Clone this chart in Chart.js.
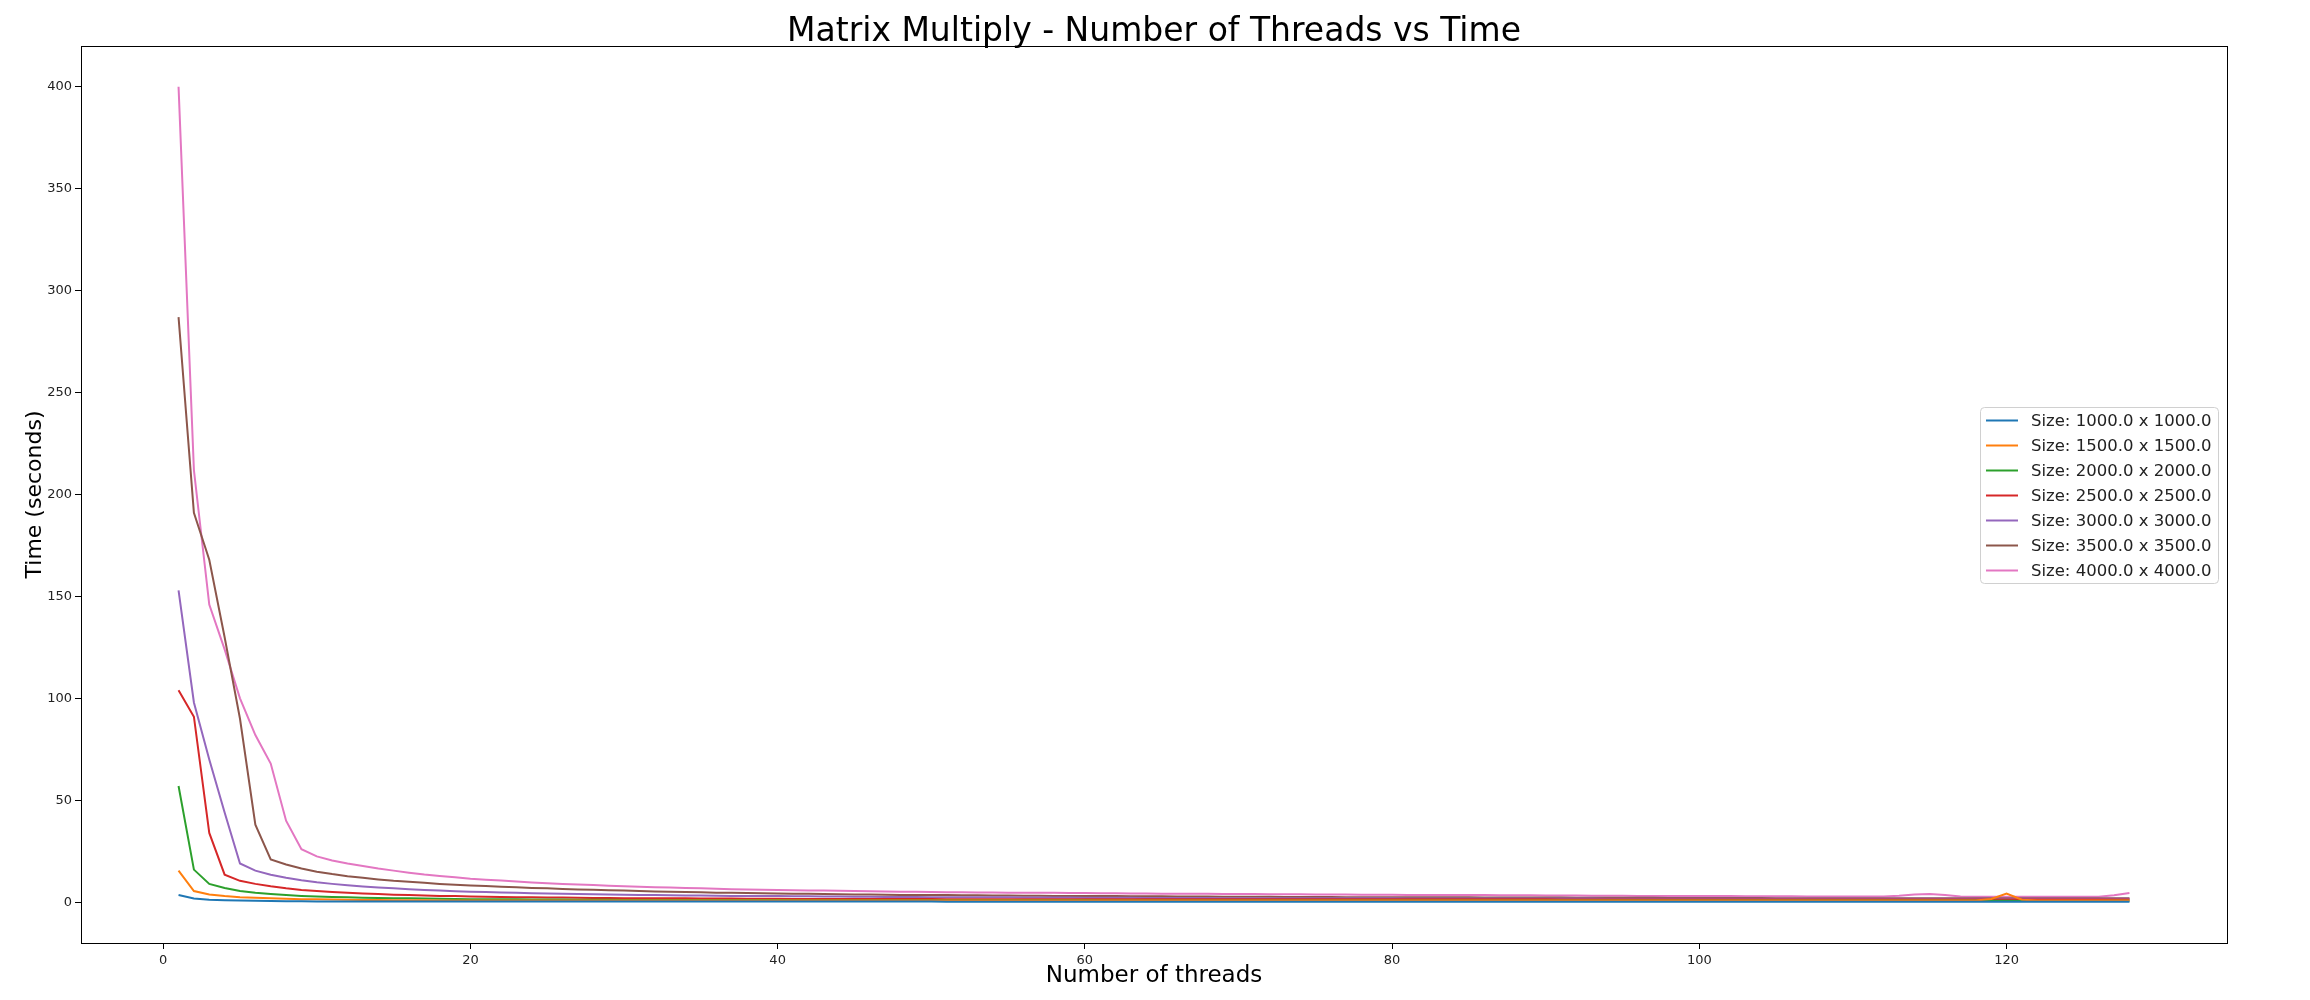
<!DOCTYPE html>
<html>
<head>
<meta charset="utf-8">
<script src="https://cdn.jsdelivr.net/npm/chart.js@4/dist/chart.umd.min.js"></script>
<style>
  html, body { margin: 0; padding: 0; background: #fff; }
  #wrap { width: 2310px; height: 1000px; }
</style>
</head>
<body>
<div id="wrap"><canvas id="canvas"></canvas></div>
<script>
// thread counts 1..128
const threads = [];
for (let t = 1; t <= 128; t++) threads.push(t);

const sizeLabels = ['Size: 1000.0 x 1000.0', 'Size: 1500.0 x 1500.0', 'Size: 2000.0 x 2000.0',
    'Size: 2500.0 x 2500.0', 'Size: 3000.0 x 3000.0', 'Size: 3500.0 x 3500.0', 'Size: 4000.0 x 4000.0'];
const colors = ['#1f77b4', '#ff7f0e', '#2ca02c', '#d62728', '#9467bd', '#8c564b', '#e377c2'];

const xTicks = [0, 20, 40, 60, 80, 100, 120];
const yTicks = [0, 50, 100, 150, 200, 250, 300, 350, 400];

const time1000 = [3.5,1.8,1.2,1,0.8,0.7,0.6,0.5,0.5,0.4,
    0.4,0.4,0.4,0.3,0.3,0.3,0.3,0.3,0.3,0.3, 0.3,0.3,0.3,0.3,0.3,0.3,0.3,0.3,0.3,0.3,
    0.3,0.3,0.3,0.3,0.3,0.3,0.3,0.3,0.3,0.3, 0.3,0.3,0.3,0.3,0.3,0.3,0.3,0.3,0.3,0.3,
    0.2,0.2,0.2,0.2,0.2,0.2,0.2,0.2,0.2,0.2, 0.2,0.2,0.2,0.2,0.2,0.2,0.2,0.2,0.2,0.2,
    0.2,0.2,0.2,0.2,0.2,0.2,0.2,0.2,0.2,0.2, 0.2,0.2,0.2,0.2,0.2,0.2,0.2,0.2,0.2,0.2,
    0.2,0.2,0.2,0.2,0.2,0.2,0.2,0.2,0.2,0.2, 0.2,0.2,0.2,0.2,0.2,0.2,0.2,0.2,0.2,0.2,
    0.2,0.2,0.2,0.2,0.2,0.2,0.2,0.2,0.2,0.2, 0.2,0.2,0.2,0.2,0.2,0.2,0.2,0.2];
const time1500 = [15.5,5.5,3.8,3,2.5,2.2,1.9,1.7,1.5,1.4,
    1.3,1.2,1.1,1.1,1,1,1,0.9,0.9,0.9, 0.9,0.9,0.9,0.9,0.9,0.9,0.9,0.9,0.9,0.9,
    0.8,0.8,0.8,0.8,0.8,0.8,0.8,0.8,0.8,0.8, 0.8,0.8,0.8,0.8,0.8,0.8,0.8,0.8,0.8,0.8,
    0.8,0.8,0.8,0.8,0.8,0.8,0.8,0.8,0.8,0.8, 0.8,0.8,0.8,0.8,0.8,0.8,0.8,0.8,0.8,0.8,
    0.8,0.8,0.8,0.8,0.8,0.8,0.8,0.8,0.8,0.8, 0.8,0.8,0.8,0.8,0.8,0.8,0.8,0.8,0.8,0.8,
    0.8,0.8,0.8,0.8,0.8,0.8,0.8,0.8,0.8,0.8, 0.8,0.8,0.8,0.8,0.8,0.8,0.8,0.8,0.8,0.8,
    0.8,0.8,0.8,0.8,0.8,0.8,0.8,0.8,1.6,4.2, 1.2,0.8,0.8,0.8,0.8,0.8,0.8,0.8];
const time2000 = [57,16,9,7,5.5,4.6,4,3.5,3.1,2.8,
    2.6,2.4,2.2,2.1,2,1.9,1.8,1.7,1.6,1.5, 1.5,1.4,1.4,1.3,1.3,1.3,1.2,1.2,1.2,1.1,
    1.1,1.1,1.1,1.1,1.1,1.1,1.1,1.1,1.1,1.1, 1,1,1,1,1,1,1,1,1,1,
    1,1,1,1,1,1,1,1,1,1, 0.9,0.9,0.9,0.9,0.9,0.9,0.9,0.9,0.9,0.9,
    0.9,0.9,0.9,0.9,0.9,0.9,0.9,0.9,0.9,0.9, 0.9,0.9,0.9,0.9,0.9,0.9,0.9,0.9,0.9,0.9,
    0.9,0.9,0.9,0.9,0.9,0.9,0.9,0.9,0.9,0.9, 0.8,0.8,0.8,0.8,0.8,0.8,0.8,0.8,0.8,0.8,
    0.8,0.8,0.8,0.8,0.8,0.8,0.8,0.8,0.7,0.7, 0.6,0.6,0.6,0.6,0.6,0.6,0.7,0.7];
const time2500 = [104,91,34,13.5,10.5,9,7.8,6.8,6,5.5,
    5,4.6,4.3,4,3.7,3.5,3.3,3.1,3,2.8, 2.7,2.6,2.5,2.4,2.3,2.3,2.2,2.1,2.1,2,
    2,1.9,1.9,1.9,1.8,1.8,1.8,1.7,1.7,1.7, 1.6,1.6,1.6,1.6,1.6,1.6,1.6,1.6,1.6,1.6,
    1.5,1.5,1.5,1.5,1.5,1.5,1.5,1.5,1.5,1.5, 1.5,1.5,1.5,1.5,1.5,1.5,1.5,1.5,1.5,1.5,
    1.4,1.4,1.4,1.4,1.4,1.4,1.4,1.4,1.4,1.4, 1.4,1.4,1.4,1.4,1.4,1.4,1.4,1.4,1.4,1.4,
    1.3,1.3,1.3,1.3,1.3,1.3,1.3,1.3,1.3,1.3, 1.3,1.3,1.3,1.3,1.3,1.3,1.3,1.3,1.3,1.3,
    1.3,1.3,1.3,1.3,1.3,1.3,1.3,1.3,1.3,1.3, 1.3,1.3,1.3,1.3,1.3,1.3,1.3,1.3];
const time3000 = [153,98,70,44,19,15.5,13.5,12,10.8,9.8,
    9,8.3,7.7,7.2,6.8,6.4,6,5.7,5.4,5.2, 5,4.8,4.6,4.4,4.3,4.1,4,3.9,3.8,3.7,
    3.6,3.5,3.4,3.3,3.3,3.2,3.1,3.1,3,3, 2.9,2.9,2.8,2.8,2.7,2.7,2.6,2.6,2.6,2.5,
    2.5,2.5,2.4,2.4,2.4,2.3,2.3,2.3,2.3,2.2, 2.2,2.2,2.2,2.1,2.1,2.1,2.1,2.1,2,2,
    2,2,2,2,1.9,1.9,1.9,1.9,1.9,1.9, 1.8,1.8,1.8,1.8,1.8,1.8,1.8,1.8,1.8,1.8,
    1.8,1.8,1.8,1.7,1.7,1.7,1.7,1.7,1.7,1.7, 1.7,1.7,1.7,1.7,1.7,1.7,1.7,1.7,1.7,1.7,
    1.7,1.7,1.7,1.7,1.7,1.7,1.7,1.7,1.7,1.7, 1.7,1.7,1.7,1.7,1.7,1.7,1.7,1.7];
const time3500 = [287,191,168,130,90,38,21,18.5,16.5,15,
    13.8,12.8,12,11.2,10.5,10,9.5,9,8.6,8.2, 7.9,7.6,7.3,7,6.8,6.5,6.3,6.1,5.9,5.7,
    5.5,5.3,5.2,5,4.9,4.7,4.6,4.5,4.4,4.3, 4.2,4.1,4,3.9,3.8,3.8,3.7,3.6,3.6,3.5,
    3.5,3.4,3.4,3.3,3.3,3.2,3.2,3.1,3.1,3, 3,3,2.9,2.9,2.9,2.8,2.8,2.8,2.7,2.7,
    2.7,2.7,2.6,2.6,2.6,2.6,2.5,2.5,2.5,2.5, 2.4,2.4,2.4,2.4,2.4,2.3,2.3,2.3,2.3,2.3,
    2.3,2.2,2.2,2.2,2.2,2.2,2.2,2.1,2.1,2.1, 2.1,2.1,2.1,2.1,2,2,2,2,2,2,
    2,2,2,2,2,2,2,2,2,2, 2,2,2,2,2,2,2,2];
const time4000 = [400,212,146,124,100,82,68,40,26,22.5,
    20.5,19,17.8,16.5,15.5,14.5,13.6,12.9,12.2,11.5, 11,10.6,10.2,9.7,9.3,9,8.7,8.4,8.1,7.8,
    7.6,7.4,7.2,7,6.8,6.6,6.4,6.2,6.1,6, 5.9,5.8,5.7,5.6,5.5,5.4,5.3,5.2,5.1,5,
    4.9,4.9,4.8,4.8,4.7,4.7,4.6,4.6,4.5,4.5, 4.4,4.4,4.3,4.3,4.2,4.2,4.1,4.1,4,4,
    4,3.9,3.9,3.9,3.8,3.8,3.8,3.7,3.7,3.7, 3.6,3.6,3.6,3.5,3.5,3.5,3.4,3.4,3.4,3.3,
    3.3,3.3,3.2,3.2,3.2,3.1,3.1,3.1,3,3, 3,3,2.9,2.9,2.9,2.9,2.8,2.8,2.8,2.8,
    2.8,2.8,3.2,3.8,4,3.6,2.8,2.7,2.7,2.7, 2.7,2.7,2.7,2.7,2.7,2.7,3.4,4.5];

const seriesValues = [time1000, time1500, time2000, time2500, time3000, time3500, time4000];

// border box, title, legend (matplotlib look)
const mplLook = {
    id: 'mplLook',
    afterDraw(chart) {
        const ctx = chart.ctx, a = chart.chartArea;
        ctx.save();
        ctx.strokeStyle = '#000';
        ctx.lineWidth = 1;
        ctx.strokeRect(a.left + 0.5, a.top + 0.5, a.right - a.left, a.bottom - a.top);

        ctx.fillStyle = '#000';
        ctx.font = '33px "DejaVu Sans"';
        ctx.textAlign = 'center';
        ctx.textBaseline = 'alphabetic';
        ctx.fillText('Matrix Multiply - Number of Threads vs Time', (a.left + a.right) / 2, 41);

        // legend box
        const bx = 1980, by = 407, bw = 238, bh = 176;
        ctx.fillStyle = 'rgba(255,255,255,0.8)';
        ctx.strokeStyle = '#d0d0d0';
        ctx.beginPath();
        ctx.roundRect(bx + 0.5, by + 0.5, bw, bh, 4);
        ctx.fill();
        ctx.stroke();
        ctx.font = '16.5px "DejaVu Sans"';
        ctx.textAlign = 'left';
        ctx.textBaseline = 'middle';
        chart.data.datasets.forEach((ds, i) => {
            const y = by + 13 + i * 25 + 0.5;
            ctx.strokeStyle = ds.borderColor;
            ctx.lineWidth = 2;
            ctx.beginPath();
            ctx.moveTo(bx + 6, y);
            ctx.lineTo(bx + 38, y);
            ctx.stroke();
            ctx.fillStyle = '#222';
            ctx.fillText(ds.label, bx + 51, y + 1);
        });
        ctx.restore();
    }
};

const ctx = document.getElementById('canvas').getContext('2d');
const chart = new Chart(ctx, {
    type: 'line',
    data: {
        datasets: seriesValues.map((vals, i) => ({
            label: sizeLabels[i],
            data: threads.map((t, j) => ({ x: t, y: vals[j] })),
            borderColor: colors[i],
            borderWidth: 2,
            pointRadius: 0,
            tension: 0,
            fill: false
        }))
    },
    options: {
        responsive: true,
        maintainAspectRatio: false,
        animation: false,
        layout: { padding: { left: 22, right: 83, top: 46, bottom: 0 } },
        plugins: { legend: { display: false }, title: { display: false }, tooltip: { enabled: false } },
        scales: {
            x: {
                type: 'linear',
                min: -5.35,
                max: 134.35,
                afterBuildTicks: s => { s.ticks = xTicks.map(v => ({ value: v })); },
                afterFit: s => { s.height = 57; },
                grid: { display: true, drawOnChartArea: false, drawTicks: true, tickLength: 6, color: '#000' },
                border: { display: false },
                ticks: { color: '#222', font: { family: 'DejaVu Sans', size: 13 }, padding: 4, maxRotation: 0 },
                title: { display: true, text: 'Number of threads', color: '#000',
                    font: { family: 'DejaVu Sans', size: 23 }, padding: { top: 0, bottom: 10 } }
            },
            y: {
                min: -20,
                max: 420,
                afterBuildTicks: s => { s.ticks = yTicks.map(v => ({ value: v })); },
                afterFit: s => { s.width = 59; },
                grid: { display: true, drawOnChartArea: false, drawTicks: true, tickLength: 6, color: '#000' },
                border: { display: false },
                ticks: { color: '#222', font: { family: 'DejaVu Sans', size: 13 }, padding: 3 },
                title: { display: true, text: 'Time (seconds)', color: '#000',
                    font: { family: 'DejaVu Sans', size: 22 }, padding: { top: 0, bottom: 0 } }
            }
        }
    },
    plugins: [mplLook]
});
</script>
</body>
</html>
